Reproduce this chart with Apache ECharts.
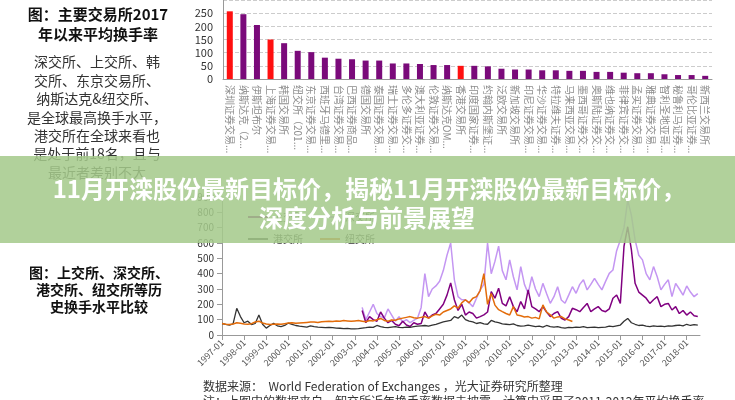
<!DOCTYPE html>
<html>
<head>
<meta charset="utf-8">
<script src="https://cdn.jsdelivr.net/npm/echarts@6/dist/echarts.min.js"></script>
<style>
  html, body { margin: 0; padding: 0; background: #fff; }
  #chart { width: 735px; height: 400px; }
</style>
</head>
<body>
<div id="chart"></div>
<script>
// 主要交易所2017年以来平均换手率（柱状图）
const exchangeNames = [
  '深圳证券交易所', '纳斯达克（2011-12）', '伊斯坦布尔', '上海证券交易所', '韩国交易所',
  '纽交所（2011-12）', '东京证券交易所', '西班牙马德里交易所', '台湾证券交易所', '巴西证券商品期货交易所',
  '德国交易所', '泰国证券交易所', '瑞士证券交易所', '多伦多证券交易所集团', '澳大利亚证券交易所',
  '伦敦证券交易所', '纳斯达克OMX集团', '香港交易所', '印度国家证券交易所', '约翰内斯堡证券交易所',
  '泛欧交易所', '新加坡交易所', '印尼证券交易所', '华沙证券交易所', '特拉维夫证券交易所',
  '马来西亚交易所', '墨西哥证券交易所', '奥斯陆证券交易所', '维也纳证券交易所', '菲律宾证券交易所',
  '孟买证券交易所', '雅典证券交易所', '智利圣地亚哥证券交易所', '秘鲁利马证券交易所', '哥伦比亚证券交易所',
  '新西兰交易所'
]
const turnoverRate = [
  257, 246, 205, 150, 136, 107, 102, 81, 77, 75, 70, 70, 59, 59, 57, 53, 53, 50,
  50, 48, 39, 36, 36, 33, 33, 31, 31, 27, 27, 24, 22, 22, 18, 15, 15, 12
]
const redBars = [0, 3, 17] // 深交所、上交所、港交所
const barTicks = [0, 50, 100, 150, 200, 250]

// 历史换手水平（每两个月取一个点）
const hkStart = 1997
const hkValues = [
  75, 70, 65, 72, 174, 120,
  80, 90, 68, 75, 130, 70,
  45, 62, 76, 60, 55, 62,
  78, 70, 62, 58, 55, 52,
  60, 55, 52, 50, 48, 50,
  48, 45, 44, 42, 43, 40,
  40, 42, 45, 48, 52, 50,
  62, 55, 50, 48, 52, 55,
  50, 48, 52, 50, 55, 58,
  60, 62, 58, 65, 70, 78,
  85, 90, 95, 120, 110, 130,
  100, 90, 85, 75, 80, 72,
  70, 95, 85, 80, 72, 70,
  68, 72, 62, 58, 60, 65,
  60, 55, 58, 52, 62, 55,
  52, 55, 48, 45, 50, 48,
  52, 50, 55, 48, 50, 52,
  48, 50, 52, 58, 55, 60,
  65, 90, 108, 80, 70, 62,
  65, 58, 55, 60, 56, 58,
  55, 60, 58, 62, 65, 60,
  70, 62, 68, 65
]
const nyseStart = 1997
const nyseValues = [
  75, 70, 68, 72, 80, 76,
  72, 70, 74, 85, 90, 78,
  72, 68, 70, 72, 70, 74,
  78, 80, 76, 78, 80, 82,
  84, 85, 82, 86, 88, 90,
  88, 92, 90, 94, 92, 90,
  92, 94, 90, 86, 95, 92,
  100, 108, 95, 90, 98, 96,
  105, 110, 115, 120, 112, 110,
  115, 120, 110, 125, 135, 130,
  150, 160, 170, 190, 175, 210,
  230, 210, 240, 250, 290, 400,
  200, 270, 195, 165, 152, 140,
  130, 185, 130, 125, 118, 120,
  110, 115, 105, 196, 150, 131,
  110, 118, 120, 105, 98, 88
]
const chinaStart = 2003 + 2 / 6
const shValues = [
  160, 80, 120, 100,
  90, 150, 110, 80, 95, 70,
  60, 90, 65, 55, 80, 70,
  75, 150, 110, 130, 140, 170,
  200, 260, 340, 230, 160, 200,
  130, 150, 140, 110, 120, 131,
  150, 283, 240, 305, 206, 190,
  250, 185, 152, 218, 170, 294,
  185, 170, 152, 185, 150, 120,
  140, 152, 109, 98, 120, 174,
  165, 152, 180, 206, 152, 170,
  185, 160, 152, 170, 240, 261,
  206, 580, 706, 555, 337, 280,
  260, 240, 206, 230, 250, 185,
  200, 206, 163, 185, 140, 160,
  130, 150, 125, 120
]
const szValues = [
  180, 100, 150, 200,
  140, 120, 110, 170, 130, 90,
  120, 85, 100, 80, 95, 110,
  180, 400, 250, 300, 320, 350,
  420, 520, 600, 360, 250, 230,
  230, 210, 185, 240, 294, 330,
  600, 400, 480, 580, 420, 360,
  490, 380, 294, 446, 330, 272,
  380, 300, 250, 337, 270, 207,
  250, 315, 228, 207, 260, 315,
  272, 330, 360, 294, 330, 370,
  330, 294, 350, 402, 424, 550,
  620, 700, 880, 780, 620, 520,
  490, 400, 360, 446, 380, 294,
  330, 360, 250, 337, 300, 260,
  320, 280, 250, 270
]
const lineColors = ['#800080', '#c496f2', '#333333', '#e36c0a']

const cjk = "'Noto Sans CJK SC', sans-serif"

// 起点 + 每两个月一个点
function toPairs (start, values) {
  return values.map((v, i) => [start + i / 6, v])
}

function textEl (text, x, y, font, color, align) {
  return {
    type: 'text',
    z: 100,
    style: {
      text: text,
      x: x,
      y: y,
      fill: color || '#222',
      font: font,
      align: align || 'center',
      verticalAlign: 'middle'
    }
  }
}

const chart = echarts.init(document.getElementById('chart'), null, { renderer: 'canvas' })

const leftTop = [
  '深交所、上交所、韩',
  '交所、东京交易所、',
  '纳斯达克&纽交所、',
  '是全球最高换手水平，',
  '港交所在全球来看也',
  '是处于前18名，且与',
  '最近者差别不大'
]

const graphics = [
  textEl('图：主要交易所2017', 98, 14, 'bold 15px ' + cjk, '#111'),
  textEl('年以来平均换手率', 98, 34, 'bold 15px ' + cjk, '#111'),
  textEl('图：上交所、深交所、', 99, 273, 'bold 14px ' + cjk, '#111'),
  textEl('港交所、纽交所等历', 99, 290, 'bold 14px ' + cjk, '#111'),
  textEl('史换手水平比较', 99, 307, 'bold 14px ' + cjk, '#111'),
  textEl('数据来源：  World Federation of Exchanges ，光大证券研究所整理', 203, 386, '12px ' + cjk, '#333', 'left'),
  textEl('注：上图中的数据来自，卸交所近年换手率数据未披露，计算中采用了2011-2012年平均换手率', 203, 401, '12px ' + cjk, '#333', 'left')
]
leftTop.forEach((t, i) => {
  graphics.push(textEl(t, 97, 62 + i * 18.4, '14px ' + cjk, '#333'))
})
// 绿色标题带
graphics.push({
  type: 'rect',
  z: 110,
  shape: { x: 0, y: 156, width: 735, height: 87 },
  style: { fill: 'rgba(164, 202, 138, 0.86)' }
})
graphics.push({
  type: 'text',
  z: 120,
  style: {
    text: '11月开滦股份最新目标价，揭秘11月开滦股份最新目标价，',
    x: 369, y: 189, fill: '#fff', font: 'bold 24px ' + cjk,
    align: 'center', verticalAlign: 'middle',
    shadowColor: 'rgba(0,0,0,0.35)', shadowBlur: 3
  }
})
graphics.push({
  type: 'text',
  z: 120,
  style: {
    text: '深度分析与前景展望',
    x: 367, y: 218, fill: '#fff', font: 'bold 24px ' + cjk,
    align: 'center', verticalAlign: 'middle',
    shadowColor: 'rgba(0,0,0,0.35)', shadowBlur: 3
  }
})

const option = {
  animation: false,
  backgroundColor: '#fff',
  textStyle: { fontFamily: cjk },
  graphic: graphics,
  legend: [
    {
      data: ['上交所', '深交所'],
      left: 243, top: 207,
      icon: 'rect', itemWidth: 20, itemHeight: 2, itemGap: 17,
      textStyle: { fontSize: 10, color: '#333', fontFamily: cjk }
    },
    {
      data: ['港交所', '纽交所'],
      left: 243, top: 229,
      icon: 'rect', itemWidth: 20, itemHeight: 2, itemGap: 17,
      textStyle: { fontSize: 10, color: '#333', fontFamily: cjk }
    }
  ],
  grid: [
    { left: 223, right: 23, top: -7, bottom: 321 },
    { left: 222, right: 35, top: 197, bottom: 65 }
  ],
  xAxis: [
    {
      type: 'category',
      gridIndex: 0,
      data: exchangeNames,
      axisLine: { lineStyle: { color: '#999' } },
      axisTick: { lineStyle: { color: '#999' } },
      axisLabel: {
        interval: 0,
        rotate: -90,
        fontSize: 10,
        color: '#8c8c8c',
        width: 70,
        overflow: 'truncate',
        margin: 6
      }
    },
    {
      type: 'value',
      gridIndex: 1,
      min: 1997,
      max: 2018.6,
      interval: 1,
      splitLine: { show: false },
      axisLine: { show: true, lineStyle: { color: '#999' } },
      axisTick: { show: true, lineStyle: { color: '#999' } },
      axisLabel: {
        rotate: 45,
        fontSize: 9,
        color: '#555',
        showMaxLabel: false,
        margin: 6,
        formatter: v => v + '-01'
      }
    }
  ],
  yAxis: [
    {
      type: 'value',
      gridIndex: 0,
      min: 0,
      max: 300,
      interval: 50,
      axisLine: { show: true, lineStyle: { color: '#999' } },
      axisTick: { show: false },
      splitLine: { lineStyle: { color: '#ccc', type: 'dashed' } },
      axisLabel: {
        fontSize: 11,
        color: '#333',
        margin: 10,
        formatter: v => (barTicks.indexOf(v) >= 0 ? String(v) : '')
      }
    },
    {
      type: 'value',
      gridIndex: 1,
      min: 0,
      max: 900,
      interval: 100,
      axisLine: { show: true, lineStyle: { color: '#999' } },
      axisTick: { show: true, lineStyle: { color: '#999' } },
      splitLine: { show: false },
      axisLabel: { fontSize: 10, color: '#333', margin: 8 }
    }
  ],
  series: [
    {
      type: 'bar',
      xAxisIndex: 0,
      yAxisIndex: 0,
      data: turnoverRate,
      barWidth: 6,
      itemStyle: {
        color: p => (redBars.indexOf(p.dataIndex) >= 0 ? '#ff1010' : '#7a0a7a')
      }
    },
    {
      name: '深交所',
      type: 'line',
      xAxisIndex: 1,
      yAxisIndex: 1,
      data: toPairs(chinaStart, szValues),
      showSymbol: false,
      color: lineColors[1],
      lineStyle: { width: 1.5 }
    },
    {
      name: '上交所',
      type: 'line',
      xAxisIndex: 1,
      yAxisIndex: 1,
      data: toPairs(chinaStart, shValues),
      showSymbol: false,
      color: lineColors[0],
      lineStyle: { width: 1.5 }
    },
    {
      name: '港交所',
      type: 'line',
      xAxisIndex: 1,
      yAxisIndex: 1,
      data: toPairs(hkStart, hkValues),
      showSymbol: false,
      color: lineColors[2],
      lineStyle: { width: 1.3 }
    },
    {
      name: '纽交所',
      type: 'line',
      xAxisIndex: 1,
      yAxisIndex: 1,
      data: toPairs(nyseStart, nyseValues),
      showSymbol: false,
      color: lineColors[3],
      lineStyle: { width: 1.5 }
    }
  ]
}

chart.setOption(option)
</script>
</body>
</html>
